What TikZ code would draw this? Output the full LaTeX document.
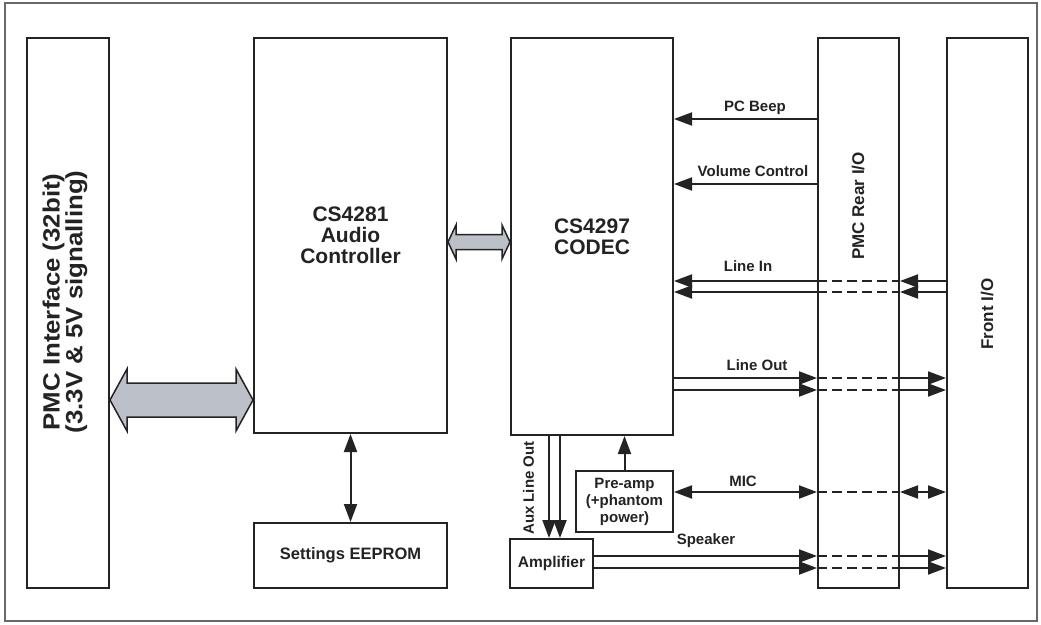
\documentclass[tikz,border=0pt]{standalone}
\usepackage{fontspec}
\setmainfont{Liberation Sans}
\newfontfamily\widesans[FakeStretch=1.1]{Liberation Sans}
\usetikzlibrary{arrows.meta,calc}
\definecolor{busgray}{RGB}{188,192,200}
\definecolor{framegray}{RGB}{105,105,105}
\definecolor{ink}{RGB}{35,35,35}
\begin{document}
\begin{tikzpicture}[x=1pt,y=-1pt,
  blk/.style={draw=ink,line width=2pt,inner sep=0pt},
  txt/.style={font=\bfseries\fontsize{15}{17}\selectfont,text=ink,align=center},
  big/.style={font=\bfseries\fontsize{21}{21}\selectfont,text=ink,align=center},
  sig/.style={draw=ink,line width=2pt,-{Triangle[length=18pt,width=13pt]}},
  bisig/.style={draw=ink,line width=2pt,{Triangle[length=18pt,width=13pt]}-{Triangle[length=18pt,width=13pt]}},
  gap/.style={draw=ink,line width=2pt,dash pattern=on 10pt off 5pt},
  bus/.style={draw=ink,line width=1.5pt,fill=busgray,line join=miter}]
\useasboundingbox (0,0) rectangle (1041,624);
\fill[white] (0,0) rectangle (1041,624);
\draw[framegray,line width=2pt] (5,3) rectangle (1037,621);
% blocks
\node[blk,minimum width=82pt,minimum height=550pt] (pmc) at (68,313) {};
\node[blk,minimum width=193pt,minimum height=395pt] (ctrl) at (350.5,235.5) {};
\node[blk,minimum width=193pt,minimum height=65pt] (eeprom) at (350.5,555.5) {};
\node[blk,minimum width=162pt,minimum height=397pt] (codec) at (592,236.5) {};
\node[blk,minimum width=97pt,minimum height=61pt] (preamp) at (624.5,501.5) {};
\node[blk,minimum width=83pt,minimum height=49pt] (amp) at (551.5,563.5) {};
\node[blk,minimum width=81pt,minimum height=550pt] (rear) at (858.5,313) {};
\node[blk,minimum width=81pt,minimum height=550pt] (front) at (987.5,313) {};
\node[font=\widesans\bfseries\fontsize{23.5}{21.5}\selectfont,text=ink,align=center,rotate=90] (pmctext) at (65,302) {PMC Interface (32bit)\\(3.3V \& 5V signalling)};
\node[big] (ctrltext) at (ctrl) {CS4281\\Audio\\Controller};
\node[big] (codectext) at (codec) {CS4297\\CODEC};
\node[txt,font=\bfseries\fontsize{16.5}{17}\selectfont] (eepromtext) at (eeprom) {Settings EEPROM};
\node[txt,font=\bfseries\fontsize{15}{17}\selectfont] (preamptext) at (preamp) {Pre-amp\\(+phantom\\power)};
\node[txt,font=\bfseries\fontsize{15.5}{17}\selectfont] (amptext) at (amp) {Amplifier};
\node[txt,font=\bfseries\fontsize{17}{17}\selectfont,rotate=90] (reartext) at (858,206) {PMC Rear I/O};
\node[txt,font=\bfseries\fontsize{17}{17}\selectfont,rotate=90] (fronttext) at (987,314) {Front I/O};
% buses
\coordinate (busL) at (pmc.east |- 0,400);
\coordinate (busR) at (ctrl.west |- 0,400);
\filldraw[bus] (busL) -- ++(17,-31) -- ++(0,14) -- ($(busR)+(-17,-17)$) -- ++(0,-14) -- (busR)
  -- ++(-17,31) -- ++(0,-14) -- ($(busL)+(17,17)$) -- ++(0,14) -- cycle;
\coordinate (lnkL) at (ctrl.east |- 0,242);
\coordinate (lnkR) at (codec.west |- 0,242);
\filldraw[bus] (lnkL) -- ++(8,-17) -- ++(0,9.5) -- ($(lnkR)+(-8,-7.5)$) -- ++(0,-9.5) -- (lnkR)
  -- ++(-8,17) -- ++(0,-9.5) -- ($(lnkL)+(8,7.5)$) -- ++(0,9.5) -- cycle;
\draw[bisig] (ctrl.south) -- (eeprom.north);
% signals
\draw[sig] (rear.west |- 0,119) -- (codec.east |- 0,119);
\draw[sig] (rear.west |- 0,184) -- (codec.east |- 0,184);
\foreach \y in {281,292} {
  \draw[sig] (front.west |- 0,\y) -- (rear.east |- 0,\y);
  \draw[sig] (rear.west |- 0,\y) -- (codec.east |- 0,\y);
}
\foreach \y in {378,390} {
  \draw[sig] (codec.east |- 0,\y) -- (rear.west |- 0,\y);
  \draw[sig] (rear.east |- 0,\y) -- (front.west |- 0,\y);
}
\draw[bisig] (preamp.east |- 0,492) -- (rear.west |- 0,492);
\draw[bisig] (rear.east |- 0,492) -- (front.west |- 0,492);
\foreach \y in {556,568} {
  \draw[sig] (amp.east |- 0,\y) -- (rear.west |- 0,\y);
  \draw[sig] (rear.east |- 0,\y) -- (front.west |- 0,\y);
}
\foreach \y in {281,292,378,390,492,556,568}
  \draw[gap] (rear.west |- 0,\y) -- (rear.east |- 0,\y);
\foreach \x in {549,560}
  \draw[sig] (\x,0 |- codec.south) -- (\x,0 |- amp.north);
\draw[sig] (preamp.north) -- (preamp.north |- codec.south);
% labels
\node[txt] (beep) at (755,108) {PC Beep};
\node[txt] (vol) at (753,171) {Volume Control};
\node[txt] (linein) at (748,266) {Line In};
\node[txt] (lineout) at (757,365) {Line Out};
\node[txt] (mic) at (743,481) {MIC};
\node[txt] (spk) at (706,541) {Speaker};
\node[txt,rotate=90] (aux) at (528.5,488) {Aux Line Out};
\end{tikzpicture}
\end{document}
